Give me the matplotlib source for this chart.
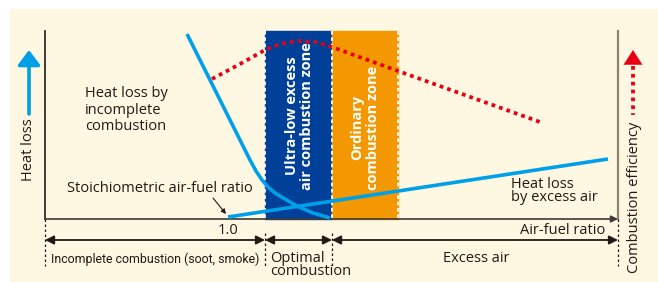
import matplotlib
matplotlib.use('Agg')
import matplotlib.pyplot as plt
from matplotlib.patches import Rectangle

# ---- data (diagram, in picture units) ----
incomplete_x = [187, 250, 256, 262, 268, 275, 285, 297, 313, 330]
incomplete_y = [34, 160, 171, 180, 187, 193, 199, 206, 213, 218]
excess_x = [228, 608]
excess_y = [217, 159]
eff_x = [212, 240, 265, 280, 298, 315, 332, 398, 540]
eff_y = [79, 64, 50, 44, 41, 42, 47, 71, 122]
zone_edges = [265, 332, 398]            # ultra-low | ordinary
range_edges = [45, 265, 332, 618]       # incomplete | optimal | excess
ratio_one_x = 228

W, H = 658, 282
BLUE_LINE = '#00a0e9'
RED = '#e60012'
NAVY = '#004098'
ORANGE = '#f39800'
CREAM = '#fef7e2'
TXT = '#231815'

fig = plt.figure(figsize=(W / 100, H / 100), dpi=100)
ax = fig.add_axes([0, 0, 1, 1])
ax.set_xlim(0, W)
ax.set_ylim(H, 0)
ax.axis('off')
fig.patch.set_facecolor('white')

font = 'Open Sans'
narrow = 'Roboto'
FS = 10.5

ax.add_patch(Rectangle((10, 9), W - 10, H - 9, color=CREAM, zorder=0))

y_axis_top, y_axis = 31, 219
# zones
ax.add_patch(Rectangle((zone_edges[0], y_axis_top), zone_edges[1] - zone_edges[0],
                       y_axis - y_axis_top, color=NAVY, zorder=1))
ax.add_patch(Rectangle((zone_edges[1], y_axis_top), zone_edges[2] - zone_edges[1],
                       y_axis - y_axis_top, color=ORANGE, zorder=1))
for x in zone_edges:
    ax.plot([x, x], [y_axis_top, y_axis], color='white', lw=1.3,
            ls=(0, (2, 1.5)), zorder=2)

ax.text((zone_edges[0] + zone_edges[1]) / 2 + 1, 190,
        'Ultra-low excess\nair combustion zone', rotation=90, color='white',
        fontsize=10.5, fontweight='bold', family=font, ha='center', va='bottom',
        linespacing=1.1, zorder=3)
ax.text((zone_edges[1] + zone_edges[2]) / 2, 190,
        'Ordinary\ncombustion zone', rotation=90, color='white',
        fontsize=10.5, fontweight='bold', family=font, ha='center', va='bottom',
        linespacing=1.1, zorder=3)

# axes lines
ax.plot([45, 45], [y_axis_top, y_axis], color=TXT, lw=1.2, zorder=2)
ax.plot([618, 618], [y_axis_top, y_axis], color='#8c8172', lw=1.6, zorder=2)
ax.annotate('', xy=(618, y_axis), xytext=(45, y_axis),
            arrowprops=dict(arrowstyle='-|>', color='#3e3a39', lw=1.2,
                            mutation_scale=10, shrinkA=0, shrinkB=0), zorder=2)

# curves
ax.plot(incomplete_x, incomplete_y, color=BLUE_LINE, lw=2.6,
        solid_capstyle='butt', zorder=4)
ax.plot(excess_x, excess_y, color=BLUE_LINE, lw=2.6, solid_capstyle='butt', zorder=4)
ax.plot(eff_x, eff_y, color=RED, lw=2.7, ls=(0, (1, 1.1)), dash_capstyle='butt',
        zorder=4)

# range arrows
for a, b in zip(range_edges[:-1], range_edges[1:]):
    ax.annotate('', xy=(b, 240), xytext=(a, 240),
                arrowprops=dict(arrowstyle='<|-|>', color=TXT, lw=1.3,
                                mutation_scale=13, shrinkA=0, shrinkB=0), zorder=3)
for x in range_edges:
    y0 = 219 if x in (range_edges[0], range_edges[-1]) else 233
    ax.plot([x, x], [y0, 266], color=TXT, lw=0.9, ls=(0, (2, 2)), zorder=2)

# axis side labels
ax.annotate('', xy=(29, 50), xytext=(29, 114),
            arrowprops=dict(arrowstyle='-|>,head_width=0.45,head_length=0.6',
                            color=BLUE_LINE, lw=2.6, mutation_scale=15,
                            shrinkA=0, shrinkB=0))
ax.text(28, 150, 'Heat loss', rotation=90, ha='center', va='center',
        fontsize=FS, family=font, color=TXT)
ax.plot([633, 633], [66, 115], color=RED, lw=2.7, ls=(0, (1, 1.1)))
ax.annotate('', xy=(633, 50), xytext=(633, 64),
            arrowprops=dict(arrowstyle='-|>,head_width=0.45,head_length=0.7',
                            color=RED, lw=0.1, mutation_scale=15,
                            shrinkA=0, shrinkB=0))
ax.text(634, 197, 'Combustion efficiency', rotation=90, ha='center', va='center',
        fontsize=FS, family=font, color=TXT)

# labels
ax.text(85, 110, 'Heat loss by\nincomplete\ncombustion', ha='left', va='center',
        fontsize=FS, family=font, color=TXT, linespacing=1.1)
ax.text(67, 189, 'Stoichiometric air-fuel ratio', ha='left', va='center',
        fontsize=FS, family=font, color=TXT)
ax.annotate('', xy=(226, 214), xytext=(213, 198),
            arrowprops=dict(arrowstyle='-|>', color=TXT, lw=0.8,
                            mutation_scale=7, shrinkA=0, shrinkB=0))
ax.text(511, 191, 'Heat loss\nby excess air', ha='left', va='center',
        fontsize=FS, family=font, color=TXT, linespacing=0.8)
ax.text(ratio_one_x, 230, '1.0', ha='center', va='center', fontsize=FS,
        family=font, color=TXT)
ax.text(605, 230, 'Air-fuel ratio', ha='right', va='center', fontsize=FS,
        family=font, color=TXT)
ax.text(155, 259, 'Incomplete combustion (soot, smoke)', ha='center', va='center',
        fontsize=8.9, family=narrow, color=TXT)
ax.text(270, 265, 'Optimal\ncombustion', ha='left', va='center', fontsize=FS,
        family=font, color=TXT, linespacing=0.75)
ax.text(476, 259, 'Excess air', ha='center', va='center', fontsize=FS,
        family=font, color=TXT)

fig.savefig('out.png', dpi=100)
